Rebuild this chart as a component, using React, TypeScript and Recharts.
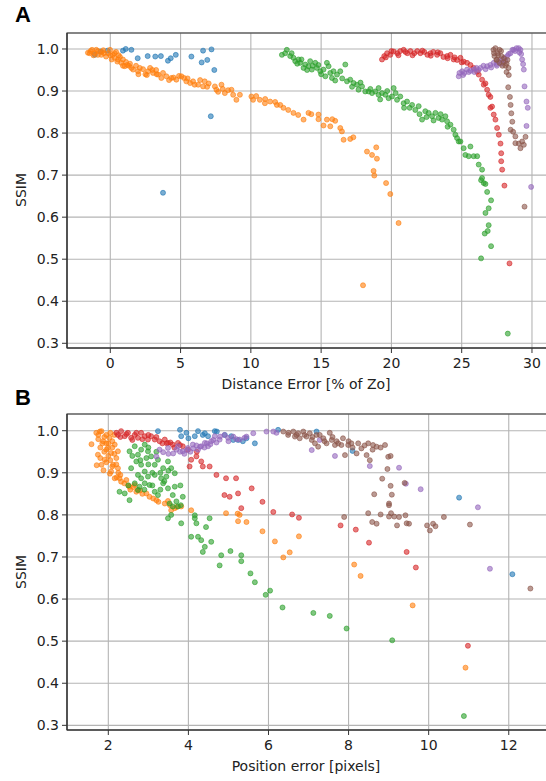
import { CartesianGrid, ReferenceArea, Scatter, ScatterChart, XAxis, YAxis } from 'recharts';

type Pt = [number, number];

// Panel A: distance error [% of Zo] vs SSIM
const distBlue: Pt[] = [
  [-1.1, 0.986], [-0.7, 0.994], [-0.2, 0.996], [0.9, 0.996], [1.1, 1.0], [1.5, 0.998],
  [1.95, 0.978], [2.66, 0.983], [3.2, 0.982], [3.6, 0.983], [4.1, 0.972], [4.3, 0.978],
  [4.66, 0.986], [5.77, 0.982], [6.5, 0.968], [6.6, 0.996], [6.9, 0.974], [7.2, 0.999],
  [7.4, 0.95], [7.15, 0.84], [3.75, 0.658],
];

const distOrange: Pt[] = [
  [-1.59, 0.991], [-1.47, 0.99], [-1.4, 0.995], [-1.3, 0.998], [-1.2, 0.985], [-1.11, 0.99],
  [-1.0, 0.998], [-0.88, 0.995], [-0.88, 0.986], [-0.64, 0.986], [-0.6, 0.993], [-0.5, 0.997],
  [-0.45, 0.99], [-0.3, 0.982], [-0.16, 0.99], [-0.02, 0.998], [0.0, 0.985], [0.1, 0.975],
  [0.19, 0.986], [0.3, 0.99], [0.31, 0.979], [0.41, 0.993], [0.5, 0.97], [0.55, 0.975],
  [0.6, 0.985], [0.69, 0.981], [0.78, 0.967], [0.9, 0.975], [0.9, 0.96], [1.03, 0.959],
  [1.12, 0.969], [1.2, 0.962], [1.33, 0.96], [1.4, 0.965], [1.5, 0.955], [1.62, 0.951],
  [1.83, 0.96], [1.97, 0.947], [2.0, 0.94], [2.1, 0.955], [2.33, 0.952], [2.5, 0.94],
  [2.6, 0.938], [2.69, 0.947], [2.83, 0.955], [3.0, 0.95], [3.04, 0.943], [3.26, 0.95],
  [3.3, 0.94], [3.4, 0.939], [3.63, 0.931], [3.75, 0.943], [3.99, 0.935], [4.18, 0.926],
  [4.34, 0.931], [4.5, 0.932], [4.7, 0.927], [4.89, 0.936], [5.06, 0.935], [5.25, 0.931],
  [5.41, 0.923], [5.5, 0.93], [5.68, 0.919], [5.89, 0.923], [6.0, 0.915], [6.25, 0.915],
  [6.39, 0.926], [6.6, 0.911], [6.72, 0.923], [6.89, 0.91], [7.0, 0.918], [7.44, 0.911],
  [7.55, 0.903], [7.67, 0.898], [7.91, 0.915], [8.0, 0.905], [8.15, 0.895], [8.38, 0.902],
  [8.62, 0.903], [8.74, 0.891], [8.97, 0.879], [9.22, 0.891], [10.04, 0.887], [10.16, 0.879],
  [10.38, 0.888], [10.64, 0.879], [11.0, 0.871], [11.02, 0.881], [11.37, 0.875], [11.73, 0.874],
  [11.85, 0.867], [12.09, 0.867], [12.32, 0.86], [12.66, 0.855], [13.03, 0.848], [13.37, 0.843],
  [13.75, 0.832], [14.1, 0.848], [14.3, 0.845], [14.81, 0.844], [14.81, 0.833], [15.17, 0.818],
  [15.41, 0.832], [15.65, 0.816], [15.79, 0.833], [16.0, 0.829], [16.36, 0.812], [16.48, 0.804],
  [16.6, 0.784], [17.07, 0.786], [17.29, 0.79], [18.26, 0.756], [18.62, 0.748], [18.92, 0.766],
  [18.97, 0.739], [18.73, 0.71], [18.78, 0.699], [19.62, 0.681], [19.92, 0.655], [20.51, 0.586],
  [17.98, 0.438],
];

const distGreen: Pt[] = [
  [12.21, 0.986], [12.44, 0.99], [12.56, 0.998], [12.8, 0.983], [12.9, 0.99], [13.03, 0.979],
  [13.16, 0.971], [13.3, 0.965], [13.39, 0.975], [13.51, 0.967], [13.6, 0.975], [13.75, 0.955],
  [13.87, 0.963], [14.0, 0.95], [14.1, 0.959], [14.22, 0.971], [14.34, 0.951], [14.4, 0.96],
  [14.58, 0.967], [14.7, 0.955], [14.8, 0.962], [14.94, 0.947], [15.0, 0.94], [15.17, 0.951],
  [15.3, 0.935], [15.41, 0.967], [15.53, 0.959], [15.65, 0.943], [15.77, 0.931], [15.88, 0.947],
  [16.0, 0.925], [16.13, 0.939], [16.36, 0.947], [16.5, 0.93], [16.72, 0.963], [16.84, 0.923],
  [17.07, 0.927], [17.2, 0.91], [17.31, 0.919], [17.55, 0.915], [17.66, 0.903], [17.8, 0.92],
  [17.91, 0.911], [18.14, 0.899], [18.38, 0.899], [18.5, 0.905], [18.62, 0.895], [18.85, 0.899],
  [19.09, 0.907], [19.09, 0.891], [19.2, 0.88], [19.33, 0.895], [19.57, 0.891], [19.7, 0.9],
  [19.8, 0.883], [20.04, 0.887], [20.16, 0.907], [20.3, 0.895], [20.4, 0.879], [20.63, 0.887],
  [20.87, 0.871], [20.9, 0.86], [21.11, 0.875], [21.3, 0.86], [21.47, 0.867], [21.7, 0.855],
  [21.94, 0.864], [22.0, 0.845], [22.18, 0.832], [22.41, 0.852], [22.5, 0.838], [22.65, 0.848],
  [22.89, 0.84], [23.0, 0.83], [23.13, 0.848], [23.36, 0.836], [23.5, 0.845], [23.6, 0.832],
  [23.84, 0.84], [23.96, 0.828], [24.0, 0.815], [24.2, 0.82], [24.43, 0.808], [24.55, 0.796],
  [24.67, 0.788], [24.79, 0.78], [24.91, 0.78], [25.14, 0.764], [25.26, 0.748], [25.5, 0.745],
  [25.62, 0.768], [25.85, 0.745], [26.1, 0.745], [26.21, 0.725], [26.45, 0.713], [26.45, 0.693],
  [26.57, 0.681], [26.38, 0.688], [26.69, 0.679], [26.81, 0.66], [27.09, 0.64], [26.92, 0.621],
  [26.69, 0.61], [26.92, 0.581], [26.85, 0.567], [26.64, 0.561], [27.09, 0.531], [26.38, 0.502],
  [28.28, 0.323],
];

const distRed: Pt[] = [
  [19.33, 0.975], [19.49, 0.983], [19.6, 0.98], [19.69, 0.99], [19.92, 0.986], [20.0, 0.995],
  [20.16, 0.994], [20.42, 0.99], [20.5, 0.985], [20.63, 0.995], [20.87, 0.998], [21.0, 0.993],
  [21.13, 0.99], [21.35, 0.995], [21.5, 0.985], [21.63, 0.99], [21.84, 0.995], [22.06, 0.99],
  [22.2, 0.996], [22.34, 0.993], [22.56, 0.986], [22.77, 0.99], [22.8, 0.984], [22.98, 0.993],
  [23.25, 0.986], [23.3, 0.992], [23.48, 0.99], [23.7, 0.981], [23.96, 0.983], [24.0, 0.978],
  [24.2, 0.986], [24.43, 0.975], [24.5, 0.98], [24.67, 0.974], [24.91, 0.979], [25.0, 0.968],
  [25.14, 0.97], [25.38, 0.967], [25.62, 0.962], [25.85, 0.955], [26.1, 0.946], [26.21, 0.939],
  [26.45, 0.927], [26.57, 0.915], [26.69, 0.918], [26.81, 0.903], [26.92, 0.891], [27.04, 0.886],
  [27.04, 0.86], [27.16, 0.863], [27.28, 0.844], [27.4, 0.832], [27.52, 0.812], [27.64, 0.796],
  [27.76, 0.775], [27.81, 0.752], [27.81, 0.733], [27.88, 0.713], [28.04, 0.675], [28.4, 0.49],
];

const distPurple: Pt[] = [
  [24.79, 0.935], [24.84, 0.943], [25.03, 0.947], [25.1, 0.938], [25.19, 0.943], [25.38, 0.951],
  [25.5, 0.945], [25.62, 0.948], [25.85, 0.951], [25.9, 0.945], [26.05, 0.955], [26.2, 0.95],
  [26.33, 0.955], [26.55, 0.96], [26.7, 0.952], [26.81, 0.959], [27.04, 0.962], [27.1, 0.956],
  [27.28, 0.967], [27.47, 0.964], [27.5, 0.96], [27.64, 0.971], [27.8, 0.965], [27.88, 0.975],
  [28.04, 0.979], [28.1, 0.972], [28.23, 0.983], [28.35, 0.988], [28.47, 0.99], [28.61, 0.998],
  [28.71, 0.998], [28.8, 0.995], [28.9, 1.002], [29.06, 1.002], [29.1, 0.992], [29.18, 0.998],
  [29.23, 0.988], [29.3, 0.975], [29.37, 0.964], [29.42, 0.951], [29.47, 0.911], [29.61, 0.875],
  [29.7, 0.86], [29.61, 0.817], [29.94, 0.672],
];

const distBrown: Pt[] = [
  [27.26, 0.998], [27.3, 0.99], [27.4, 1.002], [27.54, 0.99], [27.33, 0.983], [27.47, 0.974],
  [27.5, 0.975], [27.6, 0.985], [27.69, 0.998], [27.8, 0.995], [27.83, 0.983], [27.69, 0.967],
  [27.9, 0.96], [27.98, 0.969], [28.0, 0.978], [28.12, 0.96], [28.2, 0.965], [28.26, 0.974],
  [28.33, 0.955], [28.19, 0.945], [28.35, 0.938], [28.31, 0.909], [28.43, 0.886], [28.48, 0.867],
  [28.53, 0.847], [28.6, 0.827], [28.48, 0.808], [28.66, 0.803], [28.82, 0.792], [28.82, 0.776],
  [29.06, 0.775], [29.18, 0.764], [29.3, 0.78], [29.42, 0.772], [29.54, 0.791], [29.47, 0.625],
];

// Panel B: position error [pixels] vs SSIM
const posBlue: Pt[] = [
  [3.24, 0.999], [3.79, 1.002], [3.82, 0.987], [3.95, 0.995], [4.0, 0.982], [4.16, 0.987],
  [4.24, 0.999], [4.36, 0.99], [4.41, 0.994], [4.49, 0.987], [4.66, 0.999], [4.71, 0.998],
  [4.91, 0.99], [5.07, 0.987], [5.12, 0.978], [5.24, 0.978], [5.36, 0.975], [5.45, 0.982],
  [5.66, 0.97], [6.24, 1.002], [7.2, 0.998], [8.1, 0.952], [10.76, 0.841], [12.09, 0.659],
];

const posOrange: Pt[] = [
  [1.58, 0.968], [1.7, 0.995], [1.74, 0.943], [1.75, 0.99], [1.75, 0.98], [1.79, 0.998],
  [1.8, 0.96], [1.8, 0.935], [1.83, 0.999], [1.85, 0.97], [1.87, 0.975], [1.83, 0.919],
  [1.71, 0.918], [1.9, 0.985], [1.9, 0.95], [1.91, 0.931], [1.95, 0.99], [1.95, 0.955],
  [1.95, 0.925], [1.95, 0.97], [1.99, 0.959], [2.0, 0.97], [2.0, 0.94], [2.03, 0.983],
  [2.05, 0.995], [2.05, 0.93], [1.88, 0.906], [2.07, 0.947], [2.04, 0.898], [2.07, 0.903],
  [2.1, 0.975], [2.1, 0.96], [2.1, 0.915], [2.12, 0.919], [2.15, 0.99], [2.15, 0.945],
  [2.16, 0.967], [2.2, 0.935], [2.2, 0.92], [2.24, 0.951], [2.24, 0.911], [2.21, 0.889],
  [2.16, 0.887], [2.25, 0.9], [2.28, 0.887], [2.3, 0.895], [2.32, 0.879], [2.4, 0.875],
  [2.45, 0.883], [2.5, 0.87], [2.53, 0.867], [2.55, 0.86], [2.62, 0.866], [2.66, 0.871],
  [2.7, 0.855], [2.74, 0.859], [2.79, 0.858], [2.85, 0.85], [2.95, 0.851], [3.03, 0.843],
  [3.12, 0.839], [3.2, 0.835], [3.25, 0.831], [3.41, 0.827], [3.49, 0.833], [3.54, 0.823],
  [3.57, 0.811], [3.66, 0.816], [3.71, 0.819], [3.82, 0.82], [4.07, 0.811], [4.94, 0.804],
  [5.23, 0.803], [5.28, 0.8], [5.24, 0.785], [5.45, 0.783], [5.85, 0.761], [6.16, 0.737],
  [6.37, 0.699], [6.53, 0.711], [6.76, 0.749], [8.14, 0.682], [8.3, 0.655], [9.6, 0.585],
  [10.92, 0.437],
];

const posGreen: Pt[] = [
  [2.53, 0.951], [2.6, 0.94], [2.66, 0.963], [2.74, 0.943], [2.8, 0.93], [2.82, 0.955],
  [2.91, 0.967], [2.99, 0.951], [3.0, 0.96], [3.0, 0.92], [3.07, 0.939], [3.1, 0.9],
  [3.2, 0.95], [2.57, 0.911], [2.7, 0.927], [2.82, 0.919], [2.95, 0.935], [3.16, 0.919],
  [3.24, 0.931], [3.3, 0.9], [3.37, 0.911], [3.4, 0.88], [3.49, 0.927], [3.5, 0.905],
  [3.57, 0.911], [3.66, 0.899], [3.45, 0.891], [3.32, 0.887], [3.16, 0.895], [2.99, 0.891],
  [2.82, 0.887], [2.91, 0.903], [2.74, 0.895], [2.66, 0.875], [2.78, 0.867], [2.9, 0.86],
  [2.91, 0.875], [3.03, 0.871], [3.1, 0.87], [3.16, 0.855], [3.24, 0.847], [3.3, 0.86],
  [3.37, 0.875], [3.49, 0.863], [3.66, 0.867], [3.61, 0.847], [3.7, 0.832], [3.8, 0.87],
  [3.86, 0.843], [3.53, 0.827], [3.61, 0.82], [3.74, 0.82], [2.28, 0.855], [2.41, 0.851],
  [2.5, 0.87], [2.53, 0.835], [2.74, 0.859], [3.49, 0.792], [3.57, 0.8], [3.82, 0.78],
  [4.16, 0.792], [4.2, 0.78], [4.53, 0.792], [3.81, 0.823], [4.16, 0.799], [4.44, 0.771],
  [4.07, 0.748], [4.24, 0.748], [4.32, 0.74], [4.41, 0.724], [4.57, 0.736], [4.36, 0.712],
  [4.82, 0.704], [5.05, 0.714], [5.32, 0.704], [5.32, 0.69], [4.78, 0.68], [5.55, 0.661],
  [5.66, 0.64], [5.93, 0.61], [6.04, 0.62], [6.35, 0.58], [7.12, 0.567], [7.53, 0.56],
  [7.95, 0.53], [9.09, 0.502], [10.88, 0.322],
];

const posRed: Pt[] = [
  [2.2, 0.995], [2.24, 0.99], [2.3, 0.985], [2.32, 0.999], [2.41, 0.987], [2.45, 0.992],
  [2.49, 0.995], [2.57, 0.983], [2.6, 0.978], [2.66, 0.99], [2.7, 0.995], [2.74, 0.983],
  [2.82, 0.995], [2.85, 0.98], [2.91, 0.987], [2.99, 0.979], [3.0, 0.99], [3.07, 0.987],
  [3.16, 0.979], [3.2, 0.985], [3.28, 0.975], [3.35, 0.97], [3.41, 0.979], [3.46, 0.97],
  [3.49, 0.971], [3.55, 0.972], [3.61, 0.967], [3.65, 0.96], [3.74, 0.971], [3.79, 0.966],
  [3.86, 0.963], [3.99, 0.955], [4.2, 0.939], [4.21, 0.95], [4.07, 0.931], [4.03, 0.915],
  [4.32, 0.927], [4.36, 0.915], [4.53, 0.915], [4.7, 0.895], [4.9, 0.847], [5.03, 0.843],
  [4.94, 0.887], [5.19, 0.887], [5.24, 0.851], [5.32, 0.816], [5.58, 0.863], [5.85, 0.831],
  [6.12, 0.807], [6.59, 0.801], [6.76, 0.793], [7.8, 0.775], [8.18, 0.765], [8.51, 0.734],
  [9.45, 0.712], [9.68, 0.675], [10.98, 0.489],
];

const posPurple: Pt[] = [
  [3.2, 0.939], [3.28, 0.955], [3.37, 0.949], [3.49, 0.959], [3.5, 0.945], [3.62, 0.946],
  [3.7, 0.955], [3.74, 0.963], [3.79, 0.95], [3.86, 0.951], [3.9, 0.945], [3.96, 0.954],
  [3.99, 0.959], [4.05, 0.95], [4.11, 0.967], [4.12, 0.958], [4.2, 0.965], [4.24, 0.955],
  [4.29, 0.962], [4.32, 0.963], [4.4, 0.96], [4.41, 0.971], [4.46, 0.97], [4.49, 0.963],
  [4.55, 0.968], [4.57, 0.975], [4.62, 0.978], [4.66, 0.987], [4.7, 0.972], [4.78, 0.979],
  [4.79, 0.986], [4.9, 0.99], [4.99, 0.983], [5.0, 0.975], [5.12, 0.986], [5.2, 0.98],
  [5.28, 0.979], [5.4, 0.983], [5.45, 0.986], [5.62, 0.994], [5.95, 0.998], [6.12, 0.998],
  [6.2, 0.995], [7.08, 0.954], [7.28, 0.978], [7.66, 0.94], [8.53, 0.916], [9.26, 0.912],
  [9.43, 0.874], [9.8, 0.861], [11.23, 0.818], [11.53, 0.672],
];

const posBrown: Pt[] = [
  [6.37, 0.998], [6.49, 0.99], [6.5, 0.995], [6.62, 0.998], [6.66, 0.986], [6.7, 0.99],
  [6.74, 0.994], [6.78, 0.982], [6.87, 0.998], [6.9, 0.99], [6.95, 0.986], [7.03, 0.994],
  [7.08, 0.978], [7.1, 0.985], [7.16, 0.97], [7.2, 0.99], [7.24, 0.962], [7.28, 0.99],
  [7.37, 0.982], [7.4, 0.975], [7.45, 0.97], [7.53, 0.995], [7.58, 0.978], [7.6, 0.985],
  [7.66, 0.966], [7.7, 0.975], [7.74, 0.97], [7.82, 0.966], [7.86, 0.982], [7.91, 0.942],
  [7.99, 0.966], [8.0, 0.975], [8.07, 0.97], [8.1, 0.96], [8.2, 0.946], [8.24, 0.97],
  [8.32, 0.958], [8.4, 0.965], [8.45, 0.942], [8.49, 0.97], [8.53, 0.93], [8.6, 0.955],
  [8.61, 0.966], [8.7, 0.962], [8.8, 0.96], [8.91, 0.966], [8.99, 0.938], [9.05, 0.94],
  [8.97, 0.909], [8.84, 0.886], [9.05, 0.869], [9.4, 0.876], [8.64, 0.849], [9.08, 0.848],
  [9.01, 0.827], [9.01, 0.823], [7.89, 0.795], [8.49, 0.804], [8.59, 0.783], [8.7, 0.779],
  [8.8, 0.801], [9.01, 0.796], [9.06, 0.804], [9.14, 0.796], [9.21, 0.775], [9.26, 0.795],
  [9.42, 0.799], [9.45, 0.78], [9.51, 0.779], [9.96, 0.775], [10.03, 0.763], [10.11, 0.779],
  [10.17, 0.773], [10.38, 0.795], [11.03, 0.777], [12.54, 0.625],
];

const distTicks = [0, 5, 10, 15, 20, 25, 30];
const posTicks = [2, 4, 6, 8, 10, 12];
const ssimTicks = [0.3, 0.4, 0.5, 0.6, 0.7, 0.8, 0.9, 1.0];

const TAB = ['#1f77b4', '#ff7f0e', '#2ca02c', '#d62728', '#9467bd', '#8c564b'];
const FONT = '"DejaVu Sans", sans-serif';
const tickStyle = { fontSize: 14, fill: '#222', fontFamily: FONT };

const toRows = (pts: Pt[]) => pts.map(([x, y]) => ({ x, y }));

const dot = (color: string) => (p: any) =>
  p.cx == null ? <g /> : (
    <circle
      cx={p.cx}
      cy={p.cy}
      r={2.5}
      fill={color}
      fillOpacity={0.6}
      stroke={color}
      strokeOpacity={0.6}
      strokeWidth={1}
    />
  );

interface PanelProps {
  top: number;
  marginTop: number;
  xAxisHeight: number;
  xDomain: [number, number];
  yDomain: [number, number];
  xTicks: number[];
  series: Pt[][];
}

function Panel({ top, marginTop, xAxisHeight, xDomain, yDomain, xTicks, series }: PanelProps) {
  return (
    <div style={{ position: 'absolute', top, left: 0 }}>
      <ScatterChart width={548} height={390} margin={{ top: marginTop, right: 0, bottom: 0, left: 0 }}>
        <CartesianGrid stroke="#b4b4b4" strokeWidth={1.1} />
        <XAxis
          type="number"
          dataKey="x"
          domain={xDomain}
          ticks={xTicks}
          allowDataOverflow
          height={xAxisHeight}
          tick={tickStyle}
          tickSize={5}
          tickMargin={5}
          stroke="#333"
        />
        <YAxis
          type="number"
          dataKey="y"
          domain={yDomain}
          ticks={ssimTicks}
          allowDataOverflow
          width={67}
          tick={tickStyle}
          tickSize={5}
          tickMargin={3}
          stroke="#333"
          tickFormatter={(v: number) => v.toFixed(1)}
        />
        {series.map((pts, i) => (
          <Scatter key={i} data={toRows(pts)} shape={dot(TAB[i])} isAnimationActive={false} />
        ))}
        <ReferenceArea
          x1={xDomain[0]}
          x2={xDomain[1]}
          y1={yDomain[0]}
          y2={yDomain[1]}
          fill="none"
          stroke="#333"
          strokeWidth={1.2}
          ifOverflow="visible"
        />
      </ScatterChart>
    </div>
  );
}

const textBase: React.CSSProperties = {
  position: 'absolute',
  fontFamily: FONT,
  fontSize: 14,
  color: '#222',
  whiteSpace: 'nowrap',
  lineHeight: 1,
};

const letter: React.CSSProperties = {
  ...textBase,
  fontSize: 22,
  fontWeight: 700,
  fontFamily: '"Liberation Sans", Arial, sans-serif',
  color: '#000',
};

export default function App() {
  return (
    <div style={{ position: 'absolute', top: 0, left: 0, width: 546, height: 781, overflow: 'hidden', background: '#fff' }}>
      <Panel
        top={0}
        marginTop={33}
        xAxisHeight={42}
        xDomain={[-3.08, 31.14]}
        yDomain={[0.2888, 1.038]}
        xTicks={distTicks}
        series={[distBlue, distOrange, distGreen, distRed, distPurple, distBrown]}
      />
      <Panel
        top={390}
        marginTop={24}
        xAxisHeight={50}
        xDomain={[0.9685, 12.98]}
        yDomain={[0.2889, 1.0397]}
        xTicks={posTicks}
        series={[posBlue, posOrange, posGreen, posRed, posPurple, posBrown]}
      />
      <div style={{ ...letter, left: 15, top: 4 }}>A</div>
      <div style={{ ...letter, left: 15, top: 387 }}>B</div>
      <div style={{ ...textBase, left: 21, top: 190, transform: 'translate(-50%, -50%) rotate(-90deg)' }}>SSIM</div>
      <div style={{ ...textBase, left: 21, top: 572, transform: 'translate(-50%, -50%) rotate(-90deg)' }}>SSIM</div>
      <div style={{ ...textBase, left: 306, top: 384, transform: 'translate(-50%, -50%)' }}>Distance Error [% of Zo]</div>
      <div style={{ ...textBase, left: 306, top: 766, transform: 'translate(-50%, -50%)' }}>Position error [pixels]</div>
    </div>
  );
}
